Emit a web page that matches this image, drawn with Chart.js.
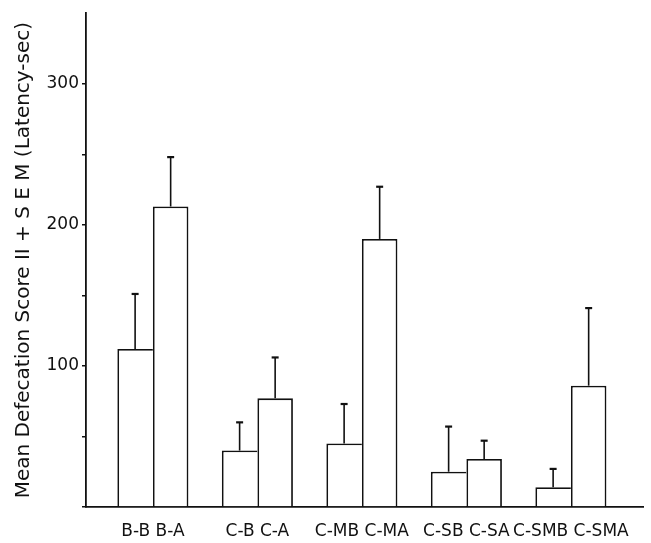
<!DOCTYPE html>
<html>
<head>
<meta charset="utf-8">
<script src="https://cdn.jsdelivr.net/npm/chart.js"></script>
<style>
  html, body { margin: 0; padding: 0; background: #fff; }
  #wrap { width: 651px; height: 543px; }
</style>
</head>
<body>
<div id="wrap"><canvas id="myChart"></canvas></div>
<script>
const beforeNames = ['B-B', 'C-B', 'C-MB', 'C-SB', 'C-SMB'];
const afterNames = ['B-A', 'C-A', 'C-MA', 'C-SA', 'C-SMA'];
const beforeMeans = [112, 40, 45, 25, 14];
const beforeSem = [39, 20, 28, 32, 13];
const afterMeans = [213, 77, 190, 34, 86];
const afterSem = [35, 29, 37, 13, 55];
const yLabels = [100, 200, 300];

const ink = '#111';
const font = 'DejaVu Sans';

// group i sits at x = i + 1 on a linear axis
const toPoints = (arr) => arr.map((v, i) => ({ x: i + 1, y: v }));
const groupLabel = (i) => beforeNames[i] + ' ' + afterNames[i];

// SEM whiskers above each bar, up only
const semBars = {
  id: 'semBars',
  afterDatasetsDraw(chart) {
    const ctx = chart.ctx;
    const y = chart.scales.y;
    const sems = [beforeSem, afterSem];
    ctx.save();
    ctx.strokeStyle = ink;
    chart.data.datasets.forEach((ds, d) => {
      chart.getDatasetMeta(d).data.forEach((bar, i) => {
        const top = y.getPixelForValue(ds.data[i].y + sems[d][i]);
        ctx.lineWidth = 1.6;
        ctx.beginPath();
        ctx.moveTo(bar.x, bar.y);
        ctx.lineTo(bar.x, top);
        ctx.stroke();
        ctx.lineWidth = 2.2;
        ctx.beginPath();
        ctx.moveTo(bar.x - 3.5, top);
        ctx.lineTo(bar.x + 3.5, top);
        ctx.stroke();
      });
    });
    ctx.restore();
  }
};

const ctx = document.getElementById('myChart');

new Chart(ctx, {
  type: 'bar',
  data: {
    datasets: [{
      label: 'before',
      data: toPoints(beforeMeans),
      backgroundColor: '#fff',
      borderColor: ink,
      // right edge is the left edge of the taller "after" bar
      borderWidth: { left: 1.8, top: 1.8, right: 0, bottom: 0 }
    }, {
      label: 'after',
      data: toPoints(afterMeans),
      backgroundColor: '#fff',
      borderColor: ink,
      borderWidth: 1.8
    }]
  },
  options: {
    responsive: true,
    maintainAspectRatio: false,
    animation: false,
    categoryPercentage: 0.68,
    barPercentage: 1,
    layout: { padding: { top: 13, right: 8, left: 0, bottom: 0 } },
    plugins: {
      legend: { display: false },
      tooltip: { enabled: false }
    },
    scales: {
      x: {
        type: 'linear',
        min: 0.36,
        max: 5.69,
        offset: false,
        grid: { display: false, offset: false },
        border: { display: true, color: ink, width: 1.8 },
        afterBuildTicks: (s) => {
          s.ticks = beforeNames.map((n, i) => ({ value: i + 1 }));
        },
        afterFit: (s) => { s.height = 36; },
        ticks: {
          autoSkip: false,
          maxRotation: 0,
          padding: 6,
          color: ink,
          font: { family: font, size: 17 },
          callback: (v) => groupLabel(v - 1)
        }
      },
      y: {
        min: 0,
        max: 350,
        afterFit: (s) => { s.width = 86; },
        grid: {
          drawOnChartArea: false,
          drawTicks: true,
          tickLength: 4,
          lineWidth: 1.5,
          color: (c) => (c.tick && c.tick.value === 350) ? 'rgba(0,0,0,0)' : ink
        },
        border: { display: true, color: ink, width: 1.8 },
        ticks: {
          stepSize: 50,
          padding: 3,
          color: ink,
          font: { family: font, size: 17 },
          callback: (v) => yLabels.includes(v) ? v : ''
        },
        title: {
          display: true,
          text: 'Mean Defecation Score II + S E M (Latency-sec)',
          color: ink,
          font: { family: font, size: 20 },
          padding: { top: 12, bottom: 0 }
        }
      }
    }
  },
  plugins: [semBars]
});
</script>
</body>
</html>
